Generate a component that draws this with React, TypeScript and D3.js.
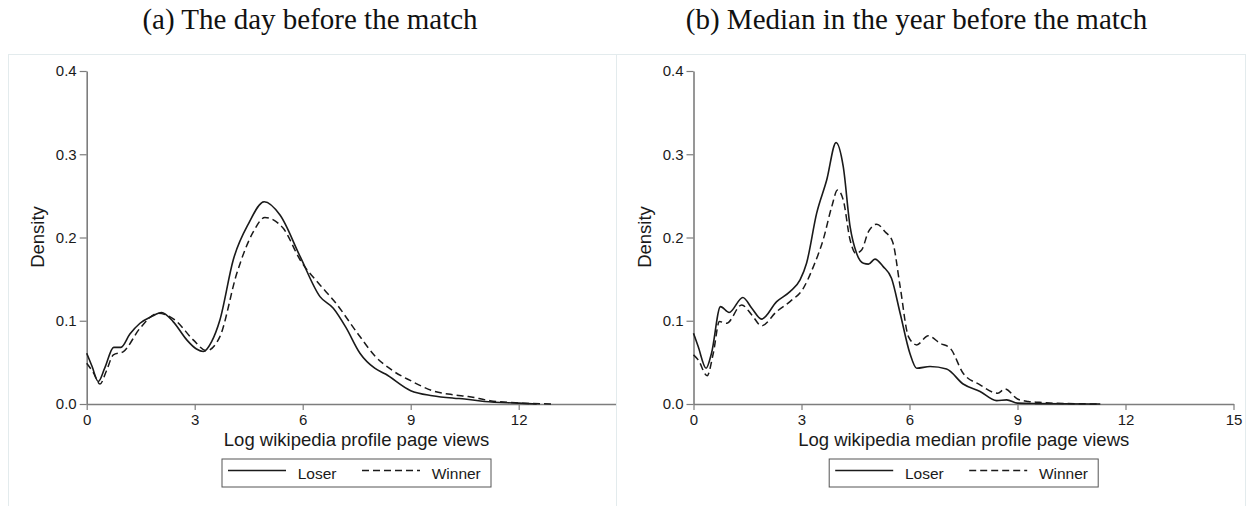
import React, { useEffect, useRef } from 'react';
import * as d3 from 'd3';

// kernel densities: [log views, density]
const dayLoser: [number, number][] = [
  [0, 0.061], [0.15, 0.045], [0.32, 0.027], [0.5, 0.043], [0.75, 0.068], [0.95, 0.068],
  [1.2, 0.084], [1.48, 0.097], [1.8, 0.105], [2.08, 0.11], [2.4, 0.099], [2.78, 0.077],
  [3.05, 0.066], [3.24, 0.063], [3.47, 0.075], [3.7, 0.101], [4.07, 0.173], [4.5, 0.217],
  [4.93, 0.243], [5.37, 0.227], [5.93, 0.177], [6.48, 0.129], [6.85, 0.115], [7.2, 0.092],
  [7.59, 0.061], [8.0, 0.043], [8.3, 0.036], [9.0, 0.016], [9.6, 0.01], [10.2, 0.007],
  [10.5, 0.006], [11.05, 0.003], [12, 0.001], [12.5, 0],
];
const dayWinner: [number, number][] = [
  [0, 0.049], [0.18, 0.038], [0.37, 0.024], [0.55, 0.04], [0.74, 0.059], [1.02, 0.063],
  [1.48, 0.091], [1.98, 0.109], [2.45, 0.101], [2.96, 0.077], [3.33, 0.064], [3.7, 0.081],
  [4.17, 0.157], [4.63, 0.207], [4.95, 0.224], [5.46, 0.211], [5.93, 0.173], [6.48, 0.143],
  [6.85, 0.125], [7.59, 0.081], [8.0, 0.058], [8.5, 0.04], [9.0, 0.028], [9.6, 0.016],
  [10.2, 0.011], [10.6, 0.009], [11.2, 0.004], [12, 0.0012], [13, 0],
];
const medLoser: [number, number][] = [
  [0, 0.085], [0.13, 0.069], [0.35, 0.043], [0.5, 0.061], [0.75, 0.117], [0.99, 0.11],
  [1.37, 0.128], [1.62, 0.115], [1.89, 0.102], [2.31, 0.123], [2.68, 0.135], [2.96, 0.149],
  [3.14, 0.169], [3.42, 0.229], [3.7, 0.269], [3.96, 0.314], [4.16, 0.285], [4.35, 0.213],
  [4.53, 0.181], [4.72, 0.169], [4.86, 0.168], [5.04, 0.174], [5.27, 0.165], [5.5, 0.151],
  [5.74, 0.109], [6.01, 0.061], [6.2, 0.043], [6.57, 0.045], [7.03, 0.042], [7.49, 0.024],
  [7.96, 0.015], [8.42, 0.004], [8.7, 0.005], [9.0, 0.001], [9.5, 0.0005], [11.3, 0],
];
const medWinner: [number, number][] = [
  [0, 0.059], [0.13, 0.053], [0.38, 0.034], [0.55, 0.061], [0.72, 0.099], [0.92, 0.097],
  [1.34, 0.119], [1.62, 0.107], [1.89, 0.094], [2.31, 0.111], [2.68, 0.123], [3.05, 0.139],
  [3.33, 0.165], [3.6, 0.197], [3.84, 0.237], [4.0, 0.257], [4.16, 0.245], [4.35, 0.197],
  [4.51, 0.181], [4.67, 0.185], [4.86, 0.207], [5.09, 0.216], [5.32, 0.207], [5.53, 0.195],
  [5.74, 0.141], [5.97, 0.081], [6.2, 0.071], [6.52, 0.082], [6.85, 0.073], [7.13, 0.067],
  [7.49, 0.037], [7.96, 0.023], [8.33, 0.014], [8.45, 0.013], [8.65, 0.018], [9.0, 0.006],
  [9.3, 0.003], [9.6, 0.002], [10, 0.001], [11.3, 0],
];

const yTicks = [0, 0.1, 0.2, 0.3, 0.4];
const dayXTicks = [0, 3, 6, 9, 12];
const medXTicks = [0, 3, 6, 9, 12, 15];
const titles = ['(a) The day before the match', '(b) Median in the year before the match'];
const xTitles = ['Log wikipedia profile page views', 'Log wikipedia median profile page views'];
const legendLabels = ['Loser', 'Winner'];

const SANS = '"Liberation Sans", Arial, sans-serif';
const SERIF = '"Liberation Serif", "Times New Roman", serif';

export default function App() {
  const ref = useRef<SVGSVGElement>(null);

  useEffect(() => {
    const svg = d3.select(ref.current);
    svg.selectAll('*').remove();

    const panels = [
      { frame: [8.5, 616.5], x0: 86.7, xMax: 14.69, ticks: dayXTicks, loser: dayLoser, winner: dayWinner, titleX: 310, legendX: 356.5 },
      { frame: [616.5, 1245.5], x0: 693.5, xMax: 15, ticks: medXTicks, loser: medLoser, winner: medWinner, titleX: 916.5, legendX: 963.7 },
    ];

    panels.forEach((p, i) => {
      const g = svg.append('g');

      // light outer frame
      g.append('rect')
        .attr('x', p.frame[0]).attr('y', 54.5)
        .attr('width', p.frame[1] - p.frame[0]).attr('height', 470)
        .attr('fill', 'none').attr('stroke', '#e3ebed').attr('stroke-width', 1);

      g.append('text')
        .attr('x', p.titleX).attr('y', 29)
        .attr('text-anchor', 'middle')
        .attr('font-family', SERIF).attr('font-size', 29)
        .attr('fill', '#111')
        .text(titles[i]);

      const x = d3.scaleLinear().domain([0, p.xMax]).range([p.x0, p.x0 + 36 * p.xMax]);
      const y = d3.scaleLinear().domain([0, 0.4]).range([404, 71]);

      const yAxis = g.append('g')
        .attr('transform', `translate(${p.x0},0)`)
        .call(d3.axisLeft(y).tickValues(yTicks).tickFormat(d3.format('.1f')).tickSize(7).tickSizeOuter(0).tickPadding(3));
      const xAxis = g.append('g')
        .attr('transform', 'translate(0,404)')
        .call(d3.axisBottom(x).tickValues(p.ticks).tickFormat(d3.format('d')).tickSize(6).tickSizeOuter(0).tickPadding(4));

      [yAxis, xAxis].forEach(a => {
        a.select('.domain').attr('stroke', '#7d7d7d').attr('stroke-width', 1.6);
        a.selectAll('.tick line').attr('stroke', '#7d7d7d').attr('stroke-width', 1.2);
        a.selectAll('.tick text').attr('font-family', SANS).attr('font-size', 15).attr('fill', '#1a1a1a');
      });

      g.append('text')
        .attr('transform', `translate(${p.x0 - 43},237) rotate(-90)`)
        .attr('text-anchor', 'middle')
        .attr('font-family', SANS).attr('font-size', 18.5).attr('fill', '#1a1a1a')
        .text('Density');

      g.append('text')
        .attr('x', p.legendX).attr('y', 445.7)
        .attr('text-anchor', 'middle')
        .attr('font-family', SANS).attr('font-size', 18.5).attr('fill', '#1a1a1a')
        .text(xTitles[i]);

      const line = d3.line<[number, number]>()
        .x(d => x(d[0]))
        .y(d => y(d[1]))
        .curve(d3.curveMonotoneX);

      g.append('path').datum(p.winner)
        .attr('d', line).attr('fill', 'none')
        .attr('stroke', '#1a1a1a').attr('stroke-width', 1.5).attr('stroke-dasharray', '7,4');
      g.append('path').datum(p.loser)
        .attr('d', line).attr('fill', 'none')
        .attr('stroke', '#1a1a1a').attr('stroke-width', 1.6);

      // legend
      const lx = p.legendX - 134.5;
      const lg = g.append('g').attr('transform', `translate(${lx},459)`);
      lg.append('rect').attr('x', 0).attr('y', 0).attr('width', 269).attr('height', 28)
        .attr('fill', '#fff').attr('stroke', '#555').attr('stroke-width', 1);
      lg.append('line').attr('x1', 6).attr('x2', 64).attr('y1', 11.5).attr('y2', 11.5)
        .attr('stroke', '#1a1a1a').attr('stroke-width', 1.6);
      lg.append('text').attr('x', 75.7).attr('y', 20)
        .attr('font-family', SANS).attr('font-size', 15.5).attr('fill', '#1a1a1a')
        .text(legendLabels[0]);
      lg.append('line').attr('x1', 140).attr('x2', 198).attr('y1', 11.5).attr('y2', 11.5)
        .attr('stroke', '#1a1a1a').attr('stroke-width', 1.5).attr('stroke-dasharray', '7,4');
      lg.append('text').attr('x', 209.7).attr('y', 20)
        .attr('font-family', SANS).attr('font-size', 15.5).attr('fill', '#1a1a1a')
        .text(legendLabels[1]);
    });
  }, []);

  return (
    <svg ref={ref} width={1253} height={506}
      style={{ position: 'absolute', left: 0, top: 0, background: '#fff' }} />
  );
}
